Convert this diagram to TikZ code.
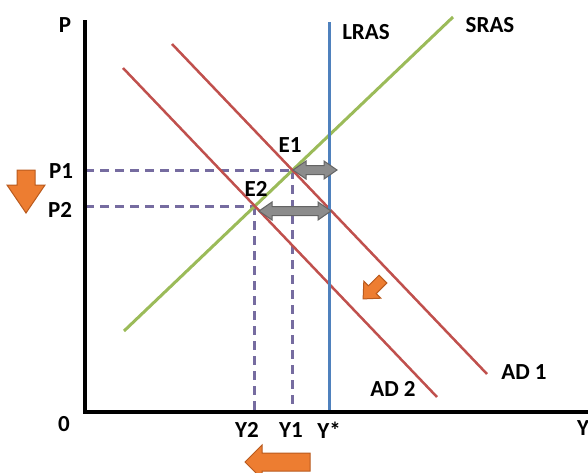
\documentclass[tikz,border=0pt]{standalone}
\usepackage{fontspec}
\setmainfont{Carlito}
\usetikzlibrary{intersections}
\definecolor{adred}{RGB}{192,80,77}
\definecolor{srasgreen}{RGB}{155,187,89}
\definecolor{lrasblue}{RGB}{79,129,189}
\definecolor{guide}{RGB}{118,108,160}
\definecolor{grayfill}{RGB}{140,140,140}
\definecolor{graydraw}{RGB}{100,100,100}
\definecolor{orfill}{RGB}{237,125,49}
\definecolor{ordraw}{RGB}{185,90,30}
\begin{document}
\begin{tikzpicture}[x=1pt,y=-1pt,
  lab/.style={font=\fontsize{23}{26}\selectfont\bfseries, inner sep=0pt},
  axisline/.style={line width=3.5pt, black, line join=miter},
  adline/.style={adred, line width=2.5pt},
  srasline/.style={srasgreen, line width=3pt},
  lrasline/.style={lrasblue, line width=3pt},
  guideline/.style={guide, line width=3pt, dash pattern=on 9pt off 6pt},
  grayarrow/.style={fill=grayfill, draw=graydraw, line width=1pt, line join=miter},
  orarrow/.style={fill=orfill, draw=ordraw, line width=1pt, line join=miter}]
\useasboundingbox (0,0) rectangle (588,472);

% axes
\coordinate (Ptop) at (85,20);
\coordinate (O) at (85,412);
\coordinate (Xend) at (592,412);

% curves endpoints
\coordinate (lrasT) at (329,22);
\coordinate (lrasB) at (329,412);
\coordinate (srasA) at (124,331);
\coordinate (srasB) at (453,17);
\coordinate (ad1A) at (172,44);
\coordinate (ad1B) at (487,374);
\coordinate (ad2A) at (123,68);
\coordinate (ad2B) at (437,397);

\path[name path=sras] (srasA) -- (srasB);
\path[name path=ad1] (ad1A) -- (ad1B);
\path[name path=ad2] (ad2A) -- (ad2B);
\path[name intersections={of=sras and ad1, by=E1}];
\path[name intersections={of=sras and ad2, by=E2}];

% guide lines
\draw[guideline] (O |- E1) -- (E1);
\draw[guideline] (E1) -- (E1 |- O);
\draw[guideline] (O |- E2) -- (E2);
\draw[guideline] (E2) -- (E2 |- O);

% curves
\draw[srasline] (srasA) -- (srasB);
\draw[adline] (ad1A) -- (ad1B);
\draw[adline] (ad2A) -- (ad2B);
\draw[lrasline] (lrasT) -- (lrasB);

% axes
\draw[axisline] (Ptop) -- (O) -- (Xend);

% gray double arrows
\draw[grayarrow] (293,170) -- ++(13,-9) -- ++(0,4.5) -- (324,165.5) -- ++(0,-4.5) -- (337,170) -- ++(-13,9) -- ++(0,-4.5) -- (306,174.5) -- ++(0,4.5) -- cycle;
\draw[grayarrow] (259,211) -- ++(13,-9) -- ++(0,4.5) -- (318,206.5) -- ++(0,-4.5) -- (331,211) -- ++(-13,9) -- ++(0,-4.5) -- (272,215.5) -- ++(0,4.5) -- cycle;

% orange arrows
\draw[orarrow] (17,170) -- (35,170) -- (35,185) -- (45,185) -- (26,213) -- (7,185) -- (17,185) -- cycle;
\draw[orarrow] (245,462) -- (262,445) -- (262,453) -- (310,453) -- (310,471) -- (262,471) -- (262,479) -- cycle;
\begin{scope}[shift={(373,289)}, rotate=225]
\draw[orarrow] (-14,-5.5) -- (1,-5.5) -- (1,-12) -- (14,0) -- (1,12) -- (1,5.5) -- (-14,5.5) -- cycle;
\end{scope}

% labels
\node[lab] (lP) at (65,25) {P};
\node[lab] (lP1) at (61,171) {P1};
\node[lab] (lP2) at (60,210) {P2};
\node[lab] (lE1) at (290,145) {E1};
\node[lab] (lE2) at (256,189) {E2};
\node[lab] (lLRAS) at (366,32) {LRAS};
\node[lab] (lSRAS) at (490,25) {SRAS};
\node[lab] (lAD1) at (524,372) {AD 1};
\node[lab] (lAD2) at (393,389) {AD 2};
\node[lab] (lY2) at (247,430) {Y2};
\node[lab] (lY1) at (291,430) {Y1};
\node[lab] (lYs) at (329,430) {Y*};
\node[lab] (l0) at (64,424) {0};
\node[lab, anchor=west] (lY) at (577,428) {Y};
\end{tikzpicture}
\end{document}
